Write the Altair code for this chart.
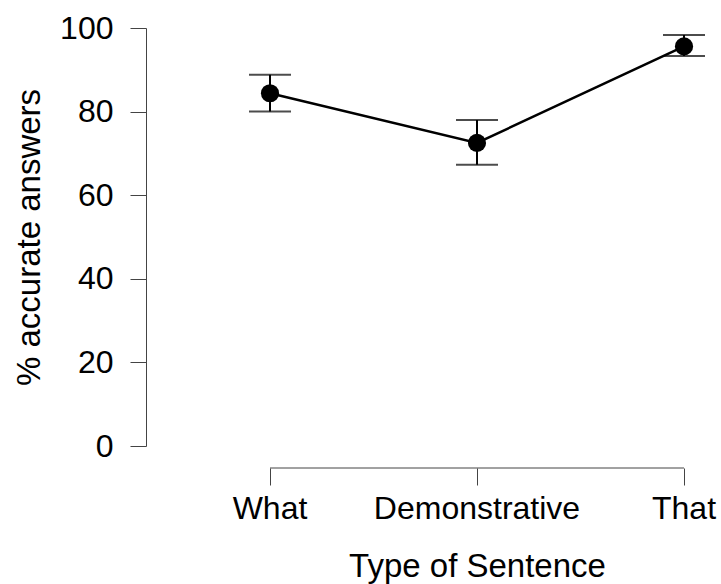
import altair as alt
import pandas as pd

categories = ["What", "Demonstrative", "That"]
means = [84.4, 72.5, 95.6]
lower = [80.0, 67.3, 93.3]
upper = [88.8, 78.0, 98.3]
y_ticks = [0, 20, 40, 60, 80, 100]

df = pd.DataFrame({"cat": categories, "mean": means, "lo": lower, "hi": upper})

W, H = 560, 418
FONT = "Liberation Sans"

xscale = alt.Scale(domain=categories, range=[-83, 745], paddingOuter=0.5)
yscale = alt.Scale(domain=[0, 100], nice=False)

x_enc = alt.X("cat:N", scale=xscale, sort=categories,
              axis=alt.Axis(title="Type of Sentence", labelAngle=0, domain=False,
                            offset=22, tickSize=17, tickColor="#444", tickWidth=1,
                            labelPadding=8, titlePadding=26, labelLimit=0))
y_axis = alt.Axis(title="% accurate answers", values=y_ticks, tickSize=16,
                  tickColor="#444", domainColor="#444", labelPadding=17,
                  titlePadding=13, grid=False)

base = alt.Chart(df)

line = base.mark_line(color="black", strokeWidth=2.5).encode(
    x=x_enc,
    y=alt.Y("mean:Q", scale=yscale, axis=y_axis),
)
err = base.mark_rule(color="black", strokeWidth=2).encode(
    x=alt.X("cat:N", scale=xscale, sort=categories),
    y=alt.Y("lo:Q", scale=yscale),
    y2="hi:Q",
)
cap_lo = base.mark_tick(color="black", size=42, thickness=2, orient="horizontal").encode(
    x=alt.X("cat:N", scale=xscale, sort=categories),
    y=alt.Y("lo:Q", scale=yscale),
)
cap_hi = base.mark_tick(color="black", size=42, thickness=2, orient="horizontal").encode(
    x=alt.X("cat:N", scale=xscale, sort=categories),
    y=alt.Y("hi:Q", scale=yscale),
)
pts = base.mark_point(filled=True, color="black", size=330, opacity=1).encode(
    x=alt.X("cat:N", scale=xscale, sort=categories),
    y=alt.Y("mean:Q", scale=yscale),
)
xaxis_line = alt.Chart(pd.DataFrame({"a": [categories[0]], "b": [categories[-1]]})).mark_rule(
    color="#444", strokeWidth=1
).encode(
    x=alt.X("a:N", scale=xscale, sort=categories),
    x2="b:N",
    y=alt.value(H + 22),
)

chart = alt.layer(line, err, cap_lo, cap_hi, pts, xaxis_line).properties(
    width=W, height=H,
    autosize=alt.AutoSizeParams(type="none"),
    padding={"left": 146, "top": 28, "right": 721 - 146 - W, "bottom": 584 - 28 - H},
).configure(background="white").configure_view(stroke=None).configure_axis(
    labelFont=FONT, titleFont=FONT, labelFontSize=32, titleFontSize=33,
    labelColor="black", titleColor="black", titleFontWeight="normal",
)

chart.save("out.html", embed_options={"renderer": "svg", "actions": False})
